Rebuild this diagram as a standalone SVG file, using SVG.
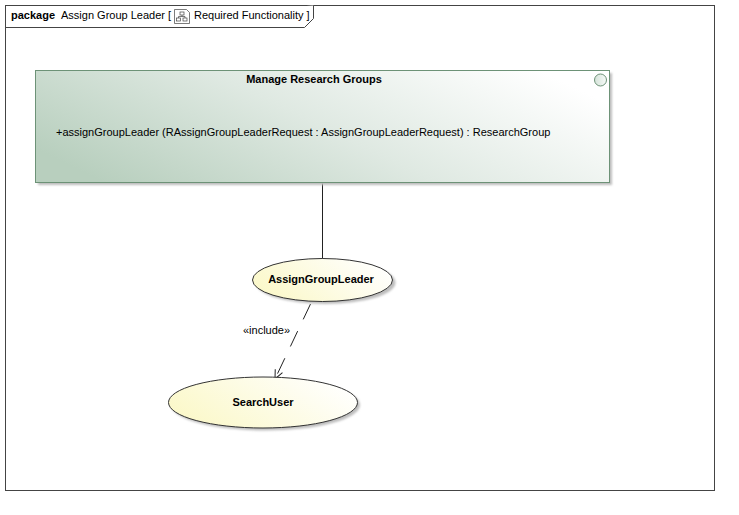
<svg xmlns="http://www.w3.org/2000/svg" width="739" height="515" viewBox="0 0 739 515">
<style>
text{font-family:"Liberation Sans",Arial,sans-serif;font-size:11px;fill:#000}
.b{font-weight:bold}
.frame{fill:#fff;stroke:#444;stroke-width:1}
.shadow{fill:#bdbdbd}
.uc{fill:url(#ucFill);stroke:#333;stroke-width:1}
.conn{fill:none;stroke:#222;stroke-width:1}
</style>
<defs>
<linearGradient id="grn" x1="0" y1="0.7" x2="1" y2="0.3"><stop offset="0" stop-color="#b8cfbe"/><stop offset="0.5" stop-color="#dfe9e2"/><stop offset="1" stop-color="#ffffff"/></linearGradient>
<linearGradient id="ucFill" x1="0" y1="0.7" x2="1" y2="0.3"><stop offset="0" stop-color="#fbf8c8"/><stop offset="1" stop-color="#ffffff"/></linearGradient>
<linearGradient id="dot" x1="0" y1="0" x2="1" y2="0"><stop offset="0" stop-color="#d5e3d9"/><stop offset="1" stop-color="#f7faf8"/></linearGradient>
<filter id="blur" x="-10%" y="-10%" width="120%" height="120%"><feGaussianBlur stdDeviation="0.8"/></filter>
<marker id="open" markerWidth="12" markerHeight="12" refX="10" refY="5" orient="auto" markerUnits="userSpaceOnUse"><path d="M1 1 L10 5 L1 9" fill="none" stroke="#222"/></marker>
</defs>
<rect width="739" height="515" fill="#fff"/>
<g id="frame">
<rect class="frame" x="5.500" y="5.500" width="709" height="485"/>
<path class="frame" d="M5.500 27.500H304.500L313.500 18.500V5.500" fill="none"/>
<text x="11" y="18.500" class="b">package</text>
<text x="61" y="18.500">Assign Group Leader [</text>
<g fill="none" stroke="#444" stroke-width="0.700">
<path d="M174.500 9.500H186.500L189.500 12.500V23.500H174.500Z"/>
<rect x="180" y="12" width="4" height="3"/><rect x="176.500" y="18" width="4" height="3"/><rect x="183" y="18" width="4" height="3"/>
<path d="M182 15V16.500M178.500 18V16.500H185V18"/>
</g>
<text x="194" y="18.500">Required Functionality ]</text>
</g>
<g id="connectors">
<path class="conn" d="M322.500 183V262"/>
<path class="conn" d="M310.500 304L275 379" stroke-dasharray="17 13" marker-end="url(#open)"/>
<text x="243" y="334">«include»</text>
</g>
<g id="manage-research-groups">
<rect class="shadow" x="38" y="73" width="574" height="112" filter="url(#blur)"/>
<rect x="35.500" y="70.500" width="574" height="112" fill="url(#grn)" stroke="#6d9277"/>
<circle cx="600.500" cy="80" r="6" fill="url(#dot)" stroke="#6d9277"/>
<text x="314" y="83" text-anchor="middle" class="b">Manage Research Groups</text>
<text x="56" y="136">+assignGroupLeader (RAssignGroupLeaderRequest : AssignGroupLeaderRequest) : ResearchGroup</text>
</g>
<g id="assign-group-leader">
<ellipse class="shadow" cx="325.500" cy="282.500" rx="70" ry="21.500" filter="url(#blur)"/>
<ellipse class="uc" cx="322.500" cy="280" rx="70" ry="21.500"/>
<text x="321" y="283" text-anchor="middle" class="b">AssignGroupLeader</text>
</g>
<g id="search-user">
<ellipse class="shadow" cx="265.500" cy="405" rx="94.500" ry="25.500" filter="url(#blur)"/>
<ellipse class="uc" cx="263" cy="402.500" rx="94.500" ry="25.500"/>
<text x="263" y="406" text-anchor="middle" class="b">SearchUser</text>
</g>
</svg>
